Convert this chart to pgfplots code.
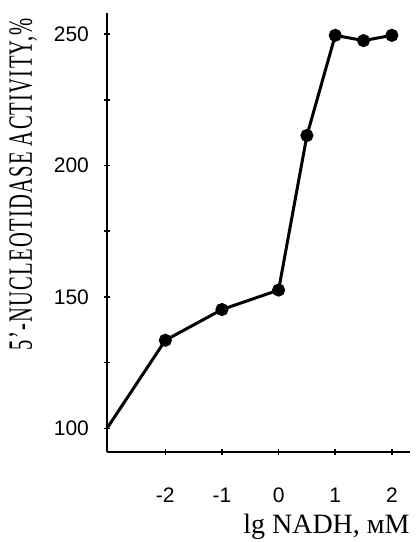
\documentclass[border=0pt]{standalone}
\usepackage{fontspec}
\setmainfont{Liberation Serif}
\setsansfont{Liberation Sans}
\usepackage{pgfplots}
\pgfplotsset{compat=1.18}
\begin{document}
\begin{tikzpicture}
\begin{axis}[
  scale only axis,
  width=151.5pt, height=219.5pt,
  xmin=-3.03, xmax=2.32,
  ymin=91, ymax=258,
  axis lines=left,
  axis line style={-, line width=1.3pt},
  xtick={-2,-1,0,1,2},
  ytick={100,150,200,250},
  minor ytick={125,175,225},
  tick align=center,
  major tick length=3pt,
  minor tick length=3pt,
  every tick/.style={black, line width=0.8pt},
  /pgf/number format/assume math mode=true,
  ticklabel style={font=\sffamily\fontsize{10.5}{12}\selectfont},
  xticklabel style={yshift=-13pt},
  yticklabel style={xshift=-4pt},
  xticklabels={-2,-1,0,1,2},
  clip=false,
]
\addplot[black, line width=1.5pt, mark=*, mark size=2.5pt, mark indices={2,3,4,5,6,7,8}]
coordinates {(-3.03,100) (-2,133.5) (-1,145.2) (0,152.6) (0.5,211.4) (1,249.5) (1.5,247.5) (2,249.5)};
\node[anchor=north east, inner sep=0pt, font=\fontsize{14}{16}\selectfont] at (rel axis cs:1,0) [yshift=-31pt] {lg NADH, мМ};
\node[rotate=90, inner sep=0pt, font=\fontsize{17}{19}\selectfont] at (rel axis cs:-0.277,0.61) {\resizebox{166pt}{\height}{\addfontfeature{LetterSpace=6}5\symbol{39}-NUCLEOTIDASE ACTIVITY,\%}};
\end{axis}
\pgfresetboundingbox
\path (-53.5pt,-45pt) rectangle (154.5pt,226pt);
\end{tikzpicture}
\end{document}
